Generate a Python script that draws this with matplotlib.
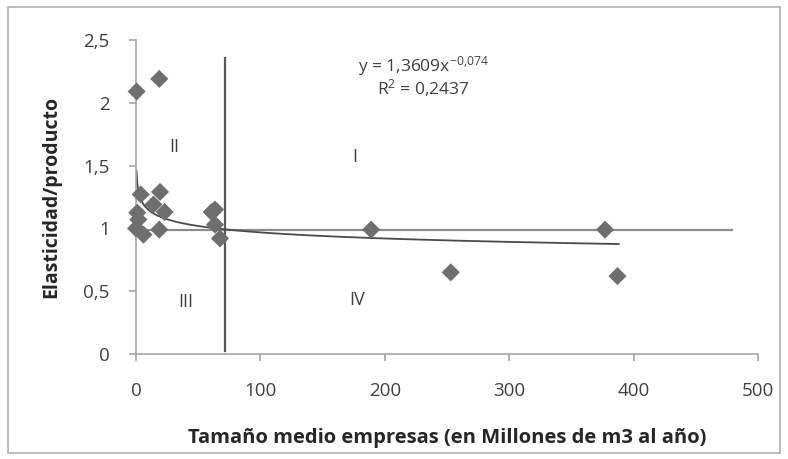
import numpy as np
import matplotlib.pyplot as plt
from matplotlib.patches import Rectangle

plt.rcParams['font.family'] = ['Open Sans', 'DejaVu Sans']
plt.rcParams['mathtext.fontset'] = 'custom'
plt.rcParams['mathtext.rm'] = 'Open Sans'
plt.rcParams['mathtext.default'] = 'rm'

# Tamaño medio de las empresas y elasticidad/producto
tamano = [0.5, 18.7, 3.8, 19.3, 14, 23, 1, 1.9, 0, 6, 18.7,
          60.8, 63.5, 63.5, 67.5, 189, 253, 377, 387]
elasticidad = [2.09, 2.19, 1.27, 1.29, 1.19, 1.13, 1.125, 1.07, 1.0, 0.95, 0.99,
               1.13, 1.15, 1.03, 0.92, 0.99, 0.65, 0.99, 0.62]

# Línea de tendencia potencial y = a * x^b
coef_a = 1.3609
coef_b = -0.074
tend_x0, tend_x1 = 0.4, 388

# Separadores de cuadrantes
corte_x = 71.5
corte_y = 0.99

xticks = [0, 100, 200, 300, 400, 500]
yticks = [0, 0.5, 1, 1.5, 2, 2.5]
ytick_labels = ['0', '0,5', '1', '1,5', '2', '2,5']

fig = plt.figure(figsize=(7.88, 4.59), dpi=100)
ax = fig.add_axes([0.1726, 0.2288, 0.962 - 0.1726, 0.9129 - 0.2288])

gris_eje = '#a6a6a6'
gris_txt = '#404040'

# marco exterior
fig.patches.append(Rectangle((0.01, 0.012), 0.98, 0.972, transform=fig.transFigure,
                             fill=False, edgecolor='#b0b0b0', linewidth=1.2))

# cuadrantes
ax.plot([0, 479], [corte_y, corte_y], color='#8c8c8c', linewidth=1.6, zorder=1)
ax.plot([corte_x, corte_x], [0.02, 2.36], color='#595959', linewidth=1.6, zorder=1)

# tendencia
xs = np.linspace(tend_x0, tend_x1, 600)
ax.plot(xs, coef_a * xs ** coef_b, color='#4a4a4a', linewidth=1.3, zorder=2)

ax.scatter(tamano, elasticidad, marker='D', s=85, color='#6e6e6e',
           edgecolors='none', zorder=3, clip_on=False)

ax.text(231, 2.29, 'y = 1,3609x$^{-0{,}074}$', ha='center', va='center',
        fontsize=12.5, color=gris_txt)
ax.text(231, 2.12, 'R$^{2}$ = 0,2437', ha='center', va='center',
        fontsize=12.5, color=gris_txt)

for x, y, s in [(31, 1.65, 'II'), (176, 1.57, 'I'), (40, 0.41, 'III'), (178, 0.43, 'IV')]:
    ax.text(x, y, s, ha='center', va='center', fontsize=13, color=gris_txt)

ax.set_xlim(0, 500)
ax.set_ylim(0, 2.5)
ax.set_xticks(xticks)
ax.set_xticklabels([str(v) for v in xticks])
ax.set_yticks(yticks)
ax.set_yticklabels(ytick_labels)

for side in ['top', 'right']:
    ax.spines[side].set_visible(False)
for side in ['left', 'bottom']:
    ax.spines[side].set_color(gris_eje)
    ax.spines[side].set_linewidth(1.2)
ax.tick_params(axis='both', colors=gris_eje, labelcolor=gris_txt, labelsize=13.5,
               length=5, width=1.2)
ax.tick_params(axis='x', pad=15)
ax.tick_params(axis='y', pad=14)

ax.set_xlabel('Tamaño medio empresas (en Millones de m3 al año)', fontsize=14.5,
              fontweight='bold', color='#262626', labelpad=20)
ax.set_ylabel('Elasticidad/producto', fontsize=14, fontweight='bold',
              color='#262626', labelpad=16)

fig.savefig('out.png', dpi=100)
